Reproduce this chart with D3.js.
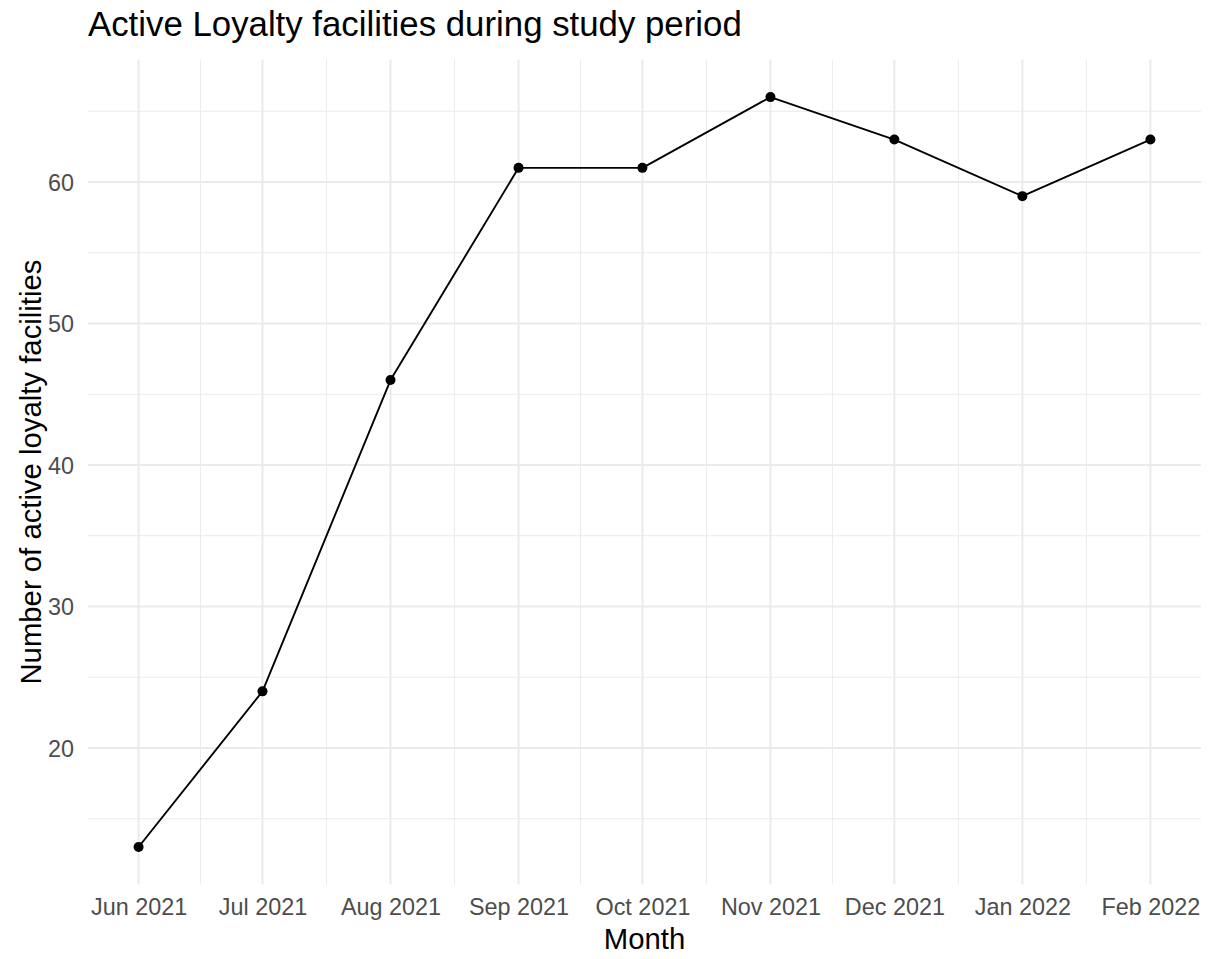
<!DOCTYPE html>
<html>
<head>
<meta charset="utf-8">
<script src="https://cdn.jsdelivr.net/npm/d3@7"></script>
<style>
  html, body { margin: 0; padding: 0; background: #fff; }
  svg { display: block; font-family: "Liberation Sans", Arial, sans-serif; }
</style>
</head>
<body>
<svg id="chart" width="1211" height="959"></svg>
<script>
// ---- data ----
const months = ["2021-06-01","2021-07-01","2021-08-01","2021-09-01","2021-10-01","2021-11-01","2021-12-01","2022-01-01","2022-02-01"];
const activeFacilities = [13, 24, 46, 61, 61, 66, 63, 59, 63];
const yTicks = [20, 30, 40, 50, 60];
const yMinorTicks = [15, 25, 35, 45, 55, 65];
const titleText = "Active Loyalty facilities during study period";
const xTitle = "Month";
const yTitle = "Number of active loyalty facilities";

// ---- layout ----
const W = 1211, H = 959;
const panel = { left: 88, right: 1201, top: 59.6, bottom: 884.5 };
const svg = d3.select("#chart");

const parse = d3.utcParse("%Y-%m-%d");
const dates = months.map(parse);
const data = dates.map((d, i) => ({ date: d, value: activeFacilities[i] }));

// ggplot-like 5% expansion
const tMin = d3.min(dates), tMax = d3.max(dates);
const tPad = (tMax - tMin) * 0.05;
const x = d3.scaleUtc()
  .domain([new Date(+tMin - tPad), new Date(+tMax + tPad)])
  .range([panel.left, panel.right]);

const vMin = d3.min(activeFacilities), vMax = d3.max(activeFacilities);
const vPad = (vMax - vMin) * 0.05;
const y = d3.scaleLinear()
  .domain([vMin - vPad, vMax + vPad])
  .range([panel.bottom, panel.top]);

// minor x breaks: midpoints between months
const xMinor = dates.slice(0, -1).map((d, i) => new Date((+d + +dates[i + 1]) / 2));

const grid = svg.append("g");
// minor gridlines
grid.selectAll(".ymin").data(yMinorTicks).enter().append("line")
  .attr("x1", panel.left).attr("x2", panel.right)
  .attr("y1", d => y(d)).attr("y2", d => y(d))
  .attr("stroke", "#EBEBEB").attr("stroke-width", 1);
grid.selectAll(".xmin").data(xMinor).enter().append("line")
  .attr("y1", panel.top).attr("y2", panel.bottom)
  .attr("x1", d => x(d)).attr("x2", d => x(d))
  .attr("stroke", "#EBEBEB").attr("stroke-width", 1);
// major gridlines
grid.selectAll(".ymaj").data(yTicks).enter().append("line")
  .attr("x1", panel.left).attr("x2", panel.right)
  .attr("y1", d => y(d)).attr("y2", d => y(d))
  .attr("stroke", "#EBEBEB").attr("stroke-width", 2);
grid.selectAll(".xmaj").data(dates).enter().append("line")
  .attr("y1", panel.top).attr("y2", panel.bottom)
  .attr("x1", d => x(d)).attr("x2", d => x(d))
  .attr("stroke", "#EBEBEB").attr("stroke-width", 2);

// axes (labels only, theme_minimal)
const xAxis = d3.axisBottom(x).tickValues(dates).tickFormat(d3.utcFormat("%b %Y")).tickSize(0).tickPadding(0);
const gx = svg.append("g").attr("transform", `translate(0,${panel.bottom})`).call(xAxis);
gx.select(".domain").remove();
gx.selectAll("text")
  .attr("y", 0).attr("dy", 0)
  .attr("transform", "translate(0,30.5)")
  .attr("fill", "#4D4D4D").style("font-size", "23.4px");

const yAxis = d3.axisLeft(y).tickValues(yTicks).tickSize(0).tickPadding(0);
const gy = svg.append("g").attr("transform", `translate(74,0)`).call(yAxis);
gy.select(".domain").remove();
gy.selectAll("text")
  .attr("x", 0).attr("dy", "0.35em")
  .attr("fill", "#4D4D4D").style("font-size", "23.4px");

// line and points
const line = d3.line().x(d => x(d.date)).y(d => y(d.value));
svg.append("path").datum(data)
  .attr("d", line).attr("fill", "none")
  .attr("stroke", "#000").attr("stroke-width", 1.9).attr("stroke-linejoin", "round");
svg.selectAll(".pt").data(data).enter().append("circle")
  .attr("cx", d => x(d.date)).attr("cy", d => y(d.value))
  .attr("r", 5).attr("fill", "#000");

// titles
svg.append("text").attr("x", 88).attr("y", 36)
  .style("font-size", "34.8px").attr("fill", "#000").text(titleText);
svg.append("text").attr("x", (panel.left + panel.right) / 2).attr("y", 949)
  .attr("text-anchor", "middle").style("font-size", "29.3px").attr("fill", "#000").text(xTitle);
svg.append("text")
  .attr("transform", `translate(41,${(panel.top + panel.bottom) / 2}) rotate(-90)`)
  .attr("text-anchor", "middle").style("font-size", "29.3px").attr("fill", "#000").text(yTitle);
</script>
</body>
</html>
